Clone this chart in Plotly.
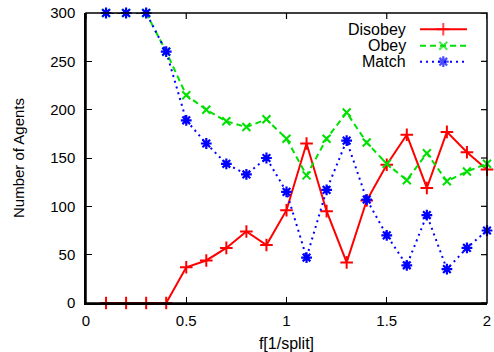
import plotly.graph_objects as go

x_vals = [0.1, 0.2, 0.3, 0.4, 0.5, 0.6, 0.7, 0.8, 0.9, 1.0,
          1.1, 1.2, 1.3, 1.4, 1.5, 1.6, 1.7, 1.8, 1.9, 2.0]
disobey = [0, 0, 0, 0, 37, 44, 57, 74, 60, 96,
           165, 95, 42, 106, 143, 174, 119, 177, 156, 138]
obey = [300, 300, 300, 260, 215, 200, 188, 182, 190, 170,
        132, 170, 197, 166, 144, 127, 155, 126, 136, 144]
match = [300, 300, 300, 260, 189, 165, 144, 133, 150, 115,
         47, 117, 168, 107, 70, 39, 91, 35, 57, 75]

x_ticks = [0, 0.5, 1, 1.5, 2]
x_tick_labels = ["0", "0.5", "1", "1.5", "2"]
y_ticks = [0, 50, 100, 150, 200, 250, 300]
series_names = ["Disobey", "Obey", "Match"]
X_RANGE = [0, 2]
Y_RANGE = [0, 300]

FONT = "Liberation Sans, Arial, sans-serif"
styles = [
    dict(color="#ff0000", dash="solid", symbol="cross-thin-open", size=9, mw=2),
    dict(color="#00e000", dash="6px,4px", symbol="x-thin-open", size=8, mw=2),
    dict(color="#0000ff", dash="2px,4px", symbol="asterisk-open", size=9, mw=2.2),
]
series = [disobey, obey, match]

W, H = 494, 352
M = dict(l=86, r=7, t=13, b=49)
PLOT_W = W - M["l"] - M["r"]
PLOT_H = H - M["t"] - M["b"]
TICK_LEN = 6

fig = go.Figure()
for name, ys, st in zip(series_names, series, styles):
    fig.add_trace(go.Scatter(
        x=x_vals, y=ys, mode="lines+markers", name=name, showlegend=False,
        line=dict(color=st["color"], width=2, dash=st["dash"]),
        marker=dict(symbol=st["symbol"], size=st["size"],
                    line=dict(color=st["color"], width=st["mw"])),
        xaxis="x", yaxis="y", cliponaxis=False,
    ))

# custom legend (text right, sample on right), gnuplot style, drawn on an
# invisible overlay pair of axes spanning 0..1 over the plot area
leg_rows = [0.944, 0.887, 0.832]
for name, st, ry in zip(series_names, styles, leg_rows):
    fig.add_trace(go.Scatter(
        x=[0.833, 0.891, 0.950], y=[ry, ry, ry], mode="lines+markers",
        showlegend=False, hoverinfo="skip",
        line=dict(color=st["color"], width=2, dash=st["dash"]),
        marker=dict(symbol=st["symbol"], size=[0, st["size"], 0],
                    line=dict(color=st["color"], width=st["mw"])),
        xaxis="x2", yaxis="y2",
    ))
    fig.add_annotation(text=name, xref="paper", yref="paper", x=0.803, y=ry,
                       xanchor="right", yanchor="middle", showarrow=False,
                       font=dict(family=FONT, size=16, color="black"))

# full frame box plus mirrored ticks on top and right (gnuplot border)
fig.add_shape(type="rect", xref="paper", yref="paper", x0=0, x1=1, y0=0, y1=1,
              line=dict(color="black", width=1.5), layer="above")
for v in x_ticks:
    fig.add_shape(type="line", xref="x", yref="paper", x0=v, x1=v,
                  y0=1, y1=1 - TICK_LEN / PLOT_H,
                  line=dict(color="black", width=1.2), layer="above")
for v in y_ticks:
    fig.add_shape(type="line", xref="paper", yref="y", x0=1,
                  x1=1 - TICK_LEN / PLOT_W, y0=v, y1=v,
                  line=dict(color="black", width=1.2), layer="above")

axis_common = dict(showline=True, linecolor="black", linewidth=1.5,
                   ticks="inside", ticklen=TICK_LEN, tickwidth=1.2,
                   tickcolor="black", showgrid=False, zeroline=False,
                   automargin=False, ticklabeloverflow="allow",
                   tickfont=dict(family=FONT, size=15, color="black"))

fig.update_layout(
    width=W, height=H,
    margin=M,
    paper_bgcolor="white", plot_bgcolor="white",
    font=dict(family=FONT, size=15, color="black"),
    xaxis=dict(range=X_RANGE, tickvals=x_ticks, ticktext=x_tick_labels,
               title=dict(text="f[1/split]", standoff=16,
                          font=dict(family=FONT, size=16)),
               ticklabelstandoff=3, **axis_common),
    yaxis=dict(range=Y_RANGE, tickvals=y_ticks,
               title=dict(text="Number of Agents", standoff=22,
                          font=dict(family=FONT, size=15)),
               ticklabelstandoff=6, **axis_common),
    xaxis2=dict(overlaying="x", range=[0, 1], anchor="y2", visible=False,
                fixedrange=True),
    yaxis2=dict(overlaying="y", range=[0, 1], anchor="x2", visible=False,
                fixedrange=True),
)

fig.write_html(
    "out.html",
    config={"displayModeBar": False},
    post_script="document.body.style.margin='0';document.body.style.overflow='hidden';",
)
